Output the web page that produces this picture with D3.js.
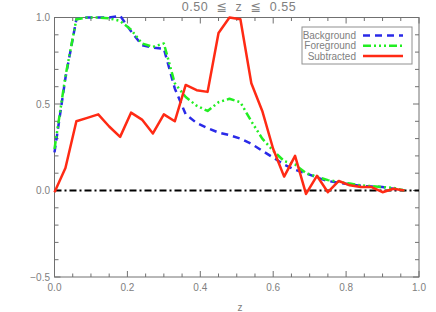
<!DOCTYPE html>
<html>
<head>
<meta charset="utf-8">
<script src="https://cdn.jsdelivr.net/npm/d3@7"></script>
<style>
  body { margin: 0; background: #fff; }
  svg text { font-family: "Liberation Sans", "DejaVu Sans", sans-serif; fill: #808080; }
</style>
</head>
<body>
<svg id="chart" width="436" height="312"></svg>
<script>
// redshift grid of the curves
var zValues = [0.00, 0.03, 0.06, 0.09, 0.12, 0.15, 0.18, 0.21, 0.24, 0.27, 0.30,
               0.33, 0.36, 0.39, 0.42, 0.45, 0.48, 0.51, 0.54, 0.57, 0.60,
               0.63, 0.66, 0.69, 0.72, 0.75, 0.78, 0.81, 0.84, 0.87, 0.90, 0.93, 0.96];

var background = [0.22, 0.65, 0.99, 1.00, 1.00, 1.00, 1.01, 0.92, 0.84, 0.825, 0.82,
                  0.59, 0.44, 0.39, 0.36, 0.335, 0.32, 0.30, 0.27, 0.23, 0.19,
                  0.15, 0.12, 0.10, 0.075, 0.055, 0.045, 0.035, 0.027, 0.023, 0.02, 0.01, 0.0];

var foreground = [0.24, 0.66, 0.99, 1.00, 1.00, 0.995, 0.98, 0.93, 0.85, 0.83, 0.85,
                  0.62, 0.54, 0.49, 0.46, 0.51, 0.53, 0.51, 0.40, 0.30, 0.23,
                  0.17, 0.15, 0.10, 0.08, 0.06, 0.05, 0.04, 0.03, 0.025, 0.02, 0.015, 0.0];

var subtracted = [-0.01, 0.13, 0.40, 0.42, 0.44, 0.37, 0.31, 0.45, 0.41, 0.33, 0.44,
                  0.40, 0.61, 0.58, 0.57, 0.91, 1.00, 0.99, 0.62, 0.46, 0.24,
                  0.08, 0.20, -0.02, 0.085, -0.01, 0.055, 0.03, 0.02, 0.02, -0.01, 0.01, 0.0];

var xTicks = [0.0, 0.2, 0.4, 0.6, 0.8, 1.0];
var yTicks = [-0.5, 0.0, 0.5, 1.0];
var legendNames = ["Background", "Foreground", "Subtracted"];

var svg = d3.select("#chart");
var x = d3.scaleLinear().domain([0, 1]).range([54.5, 419]);
var y = d3.scaleLinear().domain([-0.5, 1]).range([277, 17.5]);
var axisColor = "#707070";

// frame
svg.append("rect")
  .attr("x", x(0)).attr("y", y(1))
  .attr("width", x(1) - x(0)).attr("height", y(-0.5) - y(1))
  .attr("fill", "none").attr("stroke", axisColor).attr("stroke-width", 1);

// ticks on all four sides, minor every 0.05 / 0.1
var xMinor = d3.range(0, 1.0001, 0.05);
var yMinor = d3.range(-0.5, 1.0001, 0.1);
var ticks = svg.append("g").attr("stroke", axisColor).attr("stroke-width", 1);

xMinor.forEach(function(v) {
  var major = xTicks.some(function(t) { return Math.abs(t - v) < 1e-6; });
  var len = major ? 6 : 3.5;
  ticks.append("line").attr("x1", x(v)).attr("x2", x(v)).attr("y1", y(-0.5)).attr("y2", y(-0.5) - len);
  ticks.append("line").attr("x1", x(v)).attr("x2", x(v)).attr("y1", y(1)).attr("y2", y(1) + len);
});
yMinor.forEach(function(v) {
  var major = yTicks.some(function(t) { return Math.abs(t - v) < 1e-6; });
  var len = major ? 6 : 4;
  ticks.append("line").attr("y1", y(v)).attr("y2", y(v)).attr("x1", x(0)).attr("x2", x(0) + len);
  ticks.append("line").attr("y1", y(v)).attr("y2", y(v)).attr("x1", x(1)).attr("x2", x(1) - len);
});

// tick labels
svg.selectAll("text.xlab").data(xTicks).join("text")
  .classed("xlab", true)
  .attr("x", d => x(d)).attr("y", 291)
  .attr("text-anchor", "middle").attr("font-size", 10)
  .text(d => d.toFixed(1));

svg.selectAll("text.ylab").data(yTicks).join("text")
  .classed("ylab", true)
  .attr("x", 50).attr("y", d => y(d) + 3.5)
  .attr("text-anchor", "end").attr("font-size", 10)
  .text(d => d < 0 ? "\u2212" + Math.abs(d).toFixed(1) : d.toFixed(1));

// title and axis label
svg.append("text").attr("x", 239).attr("y", 10.5)
  .attr("text-anchor", "middle").attr("font-size", 12.5)
  .attr("letter-spacing", 0.6).attr("word-spacing", 4)
  .text("0.50 \u2266 z \u2266 0.55");

svg.append("text").attr("x", 240).attr("y", 311)
  .attr("text-anchor", "middle").attr("font-size", 10)
  .text("z");

// zero line
svg.append("line")
  .attr("x1", x(0)).attr("x2", x(1)).attr("y1", y(0)).attr("y2", y(0))
  .attr("stroke", "#000").attr("stroke-width", 2)
  .attr("stroke-dasharray", "7,3,2,3");

var styles = [
  { data: background, color: "#2a2ae8", dash: "7,5" },
  { data: foreground, color: "#22ee22", dash: "8,3,2,3,2,3,2,3" },
  { data: subtracted, color: "#ff2a14", dash: null }
];

var line = d3.line()
  .x((d, i) => x(zValues[i]))
  .y(d => y(d));

styles.forEach(function(s) {
  svg.append("path")
    .datum(s.data)
    .attr("d", line)
    .attr("fill", "none")
    .attr("stroke", s.color)
    .attr("stroke-width", 2.5)
    .attr("stroke-linejoin", "round")
    .attr("stroke-dasharray", s.dash);
});

// legend
var lg = svg.append("g");
lg.append("rect").attr("x", 302).attr("y", 27).attr("width", 110).attr("height", 37)
  .attr("fill", "#fff").attr("stroke", "#909090").attr("stroke-width", 1);

legendNames.forEach(function(name, i) {
  var ly = 35.5 + i * 10.3;
  lg.append("text").attr("x", 356).attr("y", ly + 3.5)
    .attr("text-anchor", "end").attr("font-size", 10).text(name);
  lg.append("line").attr("x1", 363).attr("x2", 403).attr("y1", ly).attr("y2", ly)
    .attr("stroke", styles[i].color).attr("stroke-width", 2.5)
    .attr("stroke-dasharray", styles[i].dash);
});
</script>
</body>
</html>
